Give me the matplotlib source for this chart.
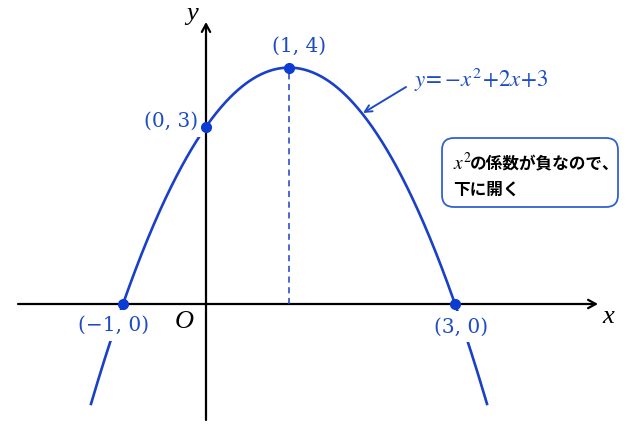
import numpy as np
import matplotlib
matplotlib.use("Agg")
import matplotlib.pyplot as plt
from matplotlib.patches import FancyBboxPatch

plt.rcParams['mathtext.fontset'] = 'stix'

# data
a, b, c = -1, 2, 3
key_x = [-1, 0, 1, 3]
key_labels = ["(−1, 0)", "(0, 3)", "(1, 4)", "(3, 0)"]
x_range = [-1.39, 3.39]

def f(x):
    return a * np.asarray(x) ** 2 + b * np.asarray(x) + c

W, H = 640, 433
fig = plt.figure(figsize=(W / 100, H / 100), dpi=100)
ax = fig.add_axes([0, 0, 1, 1])
ax.set_axis_off()

# pixel mapping: x=0 -> 206px, 83 px/unit ; y=0 -> 304px, 59.1 px/unit
X0, SX, Y0, SY = 206, 83, 304, 59.1
ax.set_xlim(-X0 / SX, (W - X0) / SX)
ax.set_ylim((Y0 - H) / SY, Y0 / SY)

def px(xp, yp):
    return (xp - X0) / SX, (Y0 - yp) / SY

blue_line = '#1a3fc8'
blue_dot = '#0b3bd0'
blue_txt = '#1d4cc4'

# axes
ax.annotate('', xy=px(598, 304), xytext=px(18, 304),
            arrowprops=dict(arrowstyle='->,head_length=0.55,head_width=0.3', color='black', lw=1.6, shrinkA=0, shrinkB=0),
            zorder=2)
ax.annotate('', xy=px(206, 22), xytext=px(206, 420),
            arrowprops=dict(arrowstyle='->,head_length=0.55,head_width=0.3', color='black', lw=1.6, shrinkA=0, shrinkB=0),
            zorder=2)
serif_it = dict(family='Liberation Serif', style='italic', fontsize=19)
ax.text(*px(608, 317), 'x', ha='center', va='center', **serif_it)
ax.text(*px(192, 14), 'y', ha='center', va='center', **serif_it)
ax.text(*px(184, 322), 'O', ha='center', va='center', **serif_it)

# curve
xs = np.linspace(x_range[0], x_range[1], 400)
ax.plot(xs, f(xs), color=blue_line, lw=1.9, zorder=3, solid_capstyle='butt')

# dashed line at vertex
vx = -b / (2 * a)
ax.plot([vx, vx], [0, f(vx)], color=blue_line, lw=1.1, ls=(0, (4, 3)), zorder=2)

# points
kx = np.array(key_x, dtype=float)
ax.plot(kx, f(kx), 'o', color=blue_dot, ms=7, zorder=5)

offsets = [(-6.5, -15.5), (-25, 3.6), (7.5, 15), (4.7, -16.5)]
for xv, lab, off in zip(key_x, key_labels, offsets):
    ax.annotate(lab, xy=(xv, f(xv)), xytext=off, textcoords='offset points',
                ha='center', va='center', color=blue_txt, fontsize=14.5,
                family='DejaVu Serif',
                bbox=dict(boxstyle='square,pad=0.3', fc='white', ec='none'),
                zorder=4)

# equation label with arrow
ax.annotate('', xy=px(363, 113), xytext=px(406, 87),
            arrowprops=dict(arrowstyle='->,head_length=0.5,head_width=0.25', color=blue_txt, lw=1.4,
                            shrinkA=0, shrinkB=0), zorder=4)
ax.text(*px(414, 80), r'$y\!=\!-\!x^2\!+\!2x\!+\!3$', ha='left', va='center',
        color=blue_txt, fontsize=16.5)

# note box
box = FancyBboxPatch((4.42, (H - 207) / 100), 1.76, 0.69,
                     boxstyle='round,pad=0,rounding_size=0.12',
                     transform=fig.dpi_scale_trans, fc='white', ec='#2f62d0', lw=1.3, zorder=4)
ax.add_patch(box)
jp = dict(family=['Noto Sans CJK JP', 'DejaVu Sans'], fontweight='bold', zorder=6)
ax.text(*px(453, 163), r'$x^2$', ha='left', va='center', fontsize=14, zorder=6)
ax.text(*px(470, 164), 'の係数が負なので、', ha='left', va='center', fontsize=12, **jp)
ax.text(*px(453, 190), '下に開く', ha='left', va='center', fontsize=12, **jp)

fig.savefig('out.png', dpi=100, facecolor='white')
